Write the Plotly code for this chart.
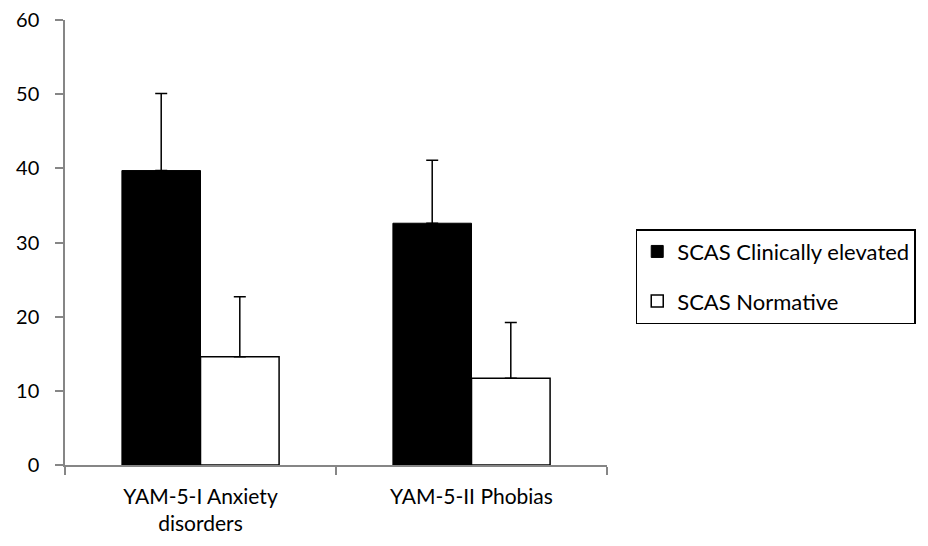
import plotly.graph_objects as go

categories = ["YAM-5-I Anxiety<br>disorders", "YAM-5-II Phobias"]
clin_values = [39.7, 32.6]
clin_errors = [10.4, 8.5]
norm_values = [14.6, 11.7]
norm_errors = [8.1, 7.5]
y_ticks = [0, 10, 20, 30, 40, 50, 60]

fig = go.Figure()
fig.add_trace(go.Bar(
    x=categories, y=clin_values, name="SCAS Clinically elevated",
    marker=dict(color="black", line=dict(color="black", width=1)),
    error_y=dict(type="data", array=clin_errors, symmetric=False,
                 arrayminus=[0, 0], color="black", thickness=1.5, width=6),
    legendgroup="a",
))
fig.add_trace(go.Bar(
    x=categories, y=norm_values, name="SCAS Normative",
    marker=dict(color="white", line=dict(color="black", width=1.5)),
    error_y=dict(type="data", array=norm_errors, symmetric=False,
                 arrayminus=[0, 0], color="black", thickness=1.5, width=6),
    legendgroup="b",
))

fig.update_layout(
    width=920, height=538,
    margin=dict(l=57, r=318, t=12, b=81),
    paper_bgcolor="white", plot_bgcolor="white",
    font=dict(family="Lato, Open Sans, sans-serif", size=21, color="black"),
    barmode="group", bargap=0.42, bargroupgap=0,
    showlegend=True,
    legend=dict(x=1.053, y=0.53, xanchor="left", yanchor="top",
                bordercolor="black", borderwidth=1.5, bgcolor="white",
                font=dict(size=22), traceorder="grouped", tracegroupgap=18,
                itemwidth=30),
    xaxis=dict(showline=True, linecolor="#868686", linewidth=1.5,
               ticks="outside", tickson="boundaries", ticklen=8,
               tickcolor="#868686", tickwidth=1.5, showgrid=False,
               ticklabelstandoff=12),
    yaxis=dict(range=[0, 60], tickvals=y_ticks, showline=True,
               linecolor="#868686", linewidth=1.5, ticks="outside",
               ticklen=8, tickcolor="#868686", tickwidth=1.5,
               showgrid=False, zeroline=False, ticklabelstandoff=12,
               ticklabeloverflow="allow", automargin=False,
               tickfont=dict(size=20)),
)

fig.write_html("out.html")
